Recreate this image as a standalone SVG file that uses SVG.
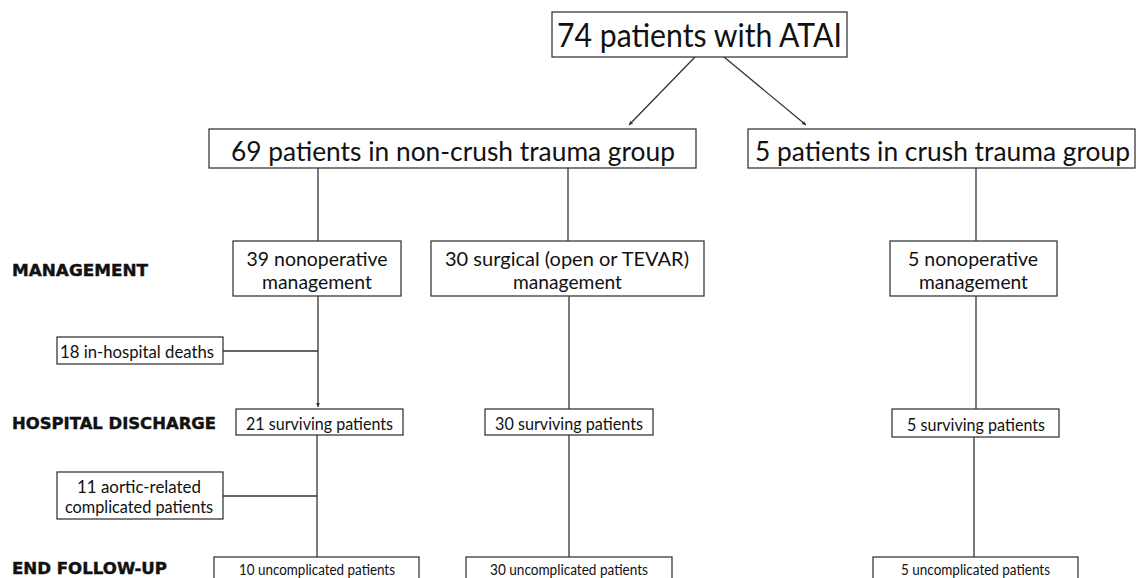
<svg xmlns="http://www.w3.org/2000/svg" width="1137" height="578" viewBox="0 0 1137 578">
<style>
.box{fill:#fff;stroke:#3a3a3a;stroke-width:1.3}
.t{font-family:Lato,"Open Sans","Liberation Sans",sans-serif;fill:#111;text-anchor:middle}
.lbl{font-family:"DejaVu Sans","Liberation Sans",sans-serif;font-weight:bold;fill:#111;font-size:15.5px;stroke:#111;stroke-width:0.4}
.c{stroke:#333;stroke-width:1.3;fill:none}
</style>
<defs>
<marker id="ah" markerWidth="5" markerHeight="5" refX="4" refY="2.5" orient="auto" markerUnits="userSpaceOnUse">
<path d="M0,0.6 L4,2.5 L0,4.4 Z" fill="#333"/>
</marker>
</defs>
<rect width="1137" height="578" fill="#fff"/>
<g id="connectors">
<line class="c" x1="695" y1="57" x2="629" y2="125" marker-end="url(#ah)"/>
<line class="c" x1="724" y1="57" x2="806" y2="125" marker-end="url(#ah)"/>
<line class="c" x1="318" y1="168" x2="318" y2="241"/>
<line class="c" x1="568" y1="168" x2="568" y2="241"/>
<line class="c" x1="976" y1="168" x2="976" y2="241"/>
<line class="c" x1="318" y1="296" x2="318" y2="407" marker-end="url(#ah)"/>
<line class="c" x1="223" y1="351" x2="318" y2="351"/>
<line class="c" x1="569" y1="296" x2="569" y2="409"/>
<line class="c" x1="976" y1="296" x2="976" y2="409"/>
<line class="c" x1="317" y1="435" x2="317" y2="557"/>
<line class="c" x1="223" y1="496" x2="317" y2="496"/>
<line class="c" x1="569" y1="435" x2="569" y2="557"/>
<line class="c" x1="974" y1="437" x2="974" y2="557"/>
</g>
<g id="labels">
<text class="lbl" x="12" y="276" textLength="136" lengthAdjust="spacingAndGlyphs">MANAGEMENT</text>
<text class="lbl" x="12" y="429" textLength="204" lengthAdjust="spacingAndGlyphs">HOSPITAL DISCHARGE</text>
<text class="lbl" x="12" y="574" textLength="155" lengthAdjust="spacingAndGlyphs">END FOLLOW-UP</text>
</g>
<g id="n-total">
<rect class="box" x="552" y="12" width="295" height="45"/>
<text class="t" x="699.5" y="47" font-size="32" textLength="285" lengthAdjust="spacingAndGlyphs">74 patients with ATAI</text>
</g>
<g id="n-noncrush">
<rect class="box" x="209" y="129" width="487" height="39"/>
<text class="t" x="453" y="161" font-size="27" textLength="444" lengthAdjust="spacingAndGlyphs">69 patients in non-crush trauma group</text>
</g>
<g id="n-crush">
<rect class="box" x="748" y="129" width="387" height="39"/>
<text class="t" x="942.5" y="161" font-size="27" textLength="375" lengthAdjust="spacingAndGlyphs">5 patients in crush trauma group</text>
</g>
<g id="n-nonop39">
<rect class="box" x="233" y="241" width="168" height="55"/>
<text class="t" x="317" y="266" font-size="19" textLength="141" lengthAdjust="spacingAndGlyphs">39 nonoperative</text>
<text class="t" x="317" y="289" font-size="19" textLength="110" lengthAdjust="spacingAndGlyphs">management</text>
</g>
<g id="n-surgical">
<rect class="box" x="431" y="241" width="273" height="55"/>
<text class="t" x="567" y="266" font-size="19" textLength="244" lengthAdjust="spacingAndGlyphs">30 surgical (open or TEVAR)</text>
<text class="t" x="567.5" y="289" font-size="19" textLength="109" lengthAdjust="spacingAndGlyphs">management</text>
</g>
<g id="n-nonop5">
<rect class="box" x="890" y="241" width="167" height="55"/>
<text class="t" x="973" y="266" font-size="19" textLength="130" lengthAdjust="spacingAndGlyphs">5 nonoperative</text>
<text class="t" x="973.5" y="289" font-size="19" textLength="109" lengthAdjust="spacingAndGlyphs">management</text>
</g>
<g id="n-deaths">
<rect class="box" x="57" y="337" width="166" height="27"/>
<text class="t" x="137" y="358" font-size="17" textLength="154" lengthAdjust="spacingAndGlyphs">18 in-hospital deaths</text>
</g>
<g id="n-surv21">
<rect class="box" x="236" y="409" width="167" height="26"/>
<text class="t" x="319.5" y="430" font-size="17" textLength="147" lengthAdjust="spacingAndGlyphs">21 surviving patients</text>
</g>
<g id="n-surv30">
<rect class="box" x="485" y="409" width="168" height="26"/>
<text class="t" x="569" y="430" font-size="17" textLength="148" lengthAdjust="spacingAndGlyphs">30 surviving patients</text>
</g>
<g id="n-surv5">
<rect class="box" x="892" y="409" width="167" height="28"/>
<text class="t" x="976" y="431" font-size="17" textLength="138" lengthAdjust="spacingAndGlyphs">5 surviving patients</text>
</g>
<g id="n-aortic">
<rect class="box" x="57" y="472" width="166" height="47"/>
<text class="t" x="139" y="493" font-size="17" textLength="124" lengthAdjust="spacingAndGlyphs">11 aortic-related</text>
<text class="t" x="139" y="513" font-size="17" textLength="148" lengthAdjust="spacingAndGlyphs">complicated patients</text>
</g>
<g id="n-uncomp10">
<rect class="box" x="214" y="557" width="205" height="40"/>
<text class="t" x="317" y="575" font-size="14.5" textLength="156" lengthAdjust="spacingAndGlyphs">10 uncomplicated patients</text>
</g>
<g id="n-uncomp30">
<rect class="box" x="466" y="557" width="206" height="40"/>
<text class="t" x="569" y="575" font-size="14.5" textLength="158" lengthAdjust="spacingAndGlyphs">30 uncomplicated patients</text>
</g>
<g id="n-uncomp5">
<rect class="box" x="873" y="557" width="205" height="40"/>
<text class="t" x="975.5" y="575" font-size="14.5" textLength="149" lengthAdjust="spacingAndGlyphs">5 uncomplicated patients</text>
</g>
</svg>
